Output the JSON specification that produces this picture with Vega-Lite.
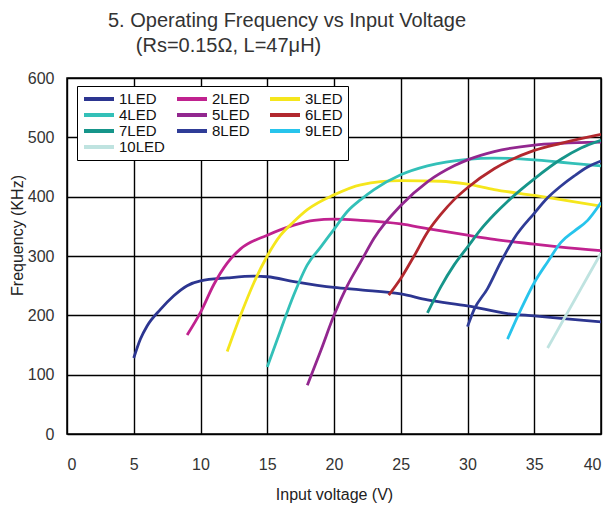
{
  "$schema": "https://vega.github.io/schema/vega-lite/v6.json",
  "width": 534,
  "height": 356,
  "autosize": {"type": "none"},
  "padding": {"left": 67, "top": 78, "right": 9, "bottom": 74},
  "background": "white",
  "title": {
    "text": ["5. Operating Frequency vs Input Voltage", "\u200b\u00a0\u00a0\u00a0\u00a0\u00a0(Rs=0.15Ω, L=47μH)"],
    "anchor": "start",
    "frame": "group",
    "dx": 41,
    "offset": 14,
    "fontSize": 20,
    "lineHeight": 25,
    "font": "Liberation Sans",
    "fontWeight": "normal",
    "color": "#333333"
  },
  "data": {
    "values": [
      {"s": "1LED", "v": 5, "f": 128}, {"s": "1LED", "v": 5.5, "f": 160}, {"s": "1LED", "v": 6, "f": 182}, {"s": "1LED", "v": 7, "f": 210}, {"s": "1LED", "v": 8, "f": 233}, {"s": "1LED", "v": 9, "f": 250}, {"s": "1LED", "v": 10, "f": 258}, {"s": "1LED", "v": 12, "f": 263}, {"s": "1LED", "v": 14, "f": 266}, {"s": "1LED", "v": 15, "f": 265}, {"s": "1LED", "v": 17, "f": 257}, {"s": "1LED", "v": 20, "f": 247}, {"s": "1LED", "v": 22, "f": 243}, {"s": "1LED", "v": 25, "f": 236}, {"s": "1LED", "v": 27, "f": 226}, {"s": "1LED", "v": 30, "f": 216}, {"s": "1LED", "v": 33, "f": 203}, {"s": "1LED", "v": 35, "f": 199}, {"s": "1LED", "v": 37, "f": 195}, {"s": "1LED", "v": 40, "f": 189},
      {"s": "2LED", "v": 9, "f": 167}, {"s": "2LED", "v": 10, "f": 205}, {"s": "2LED", "v": 11, "f": 252}, {"s": "2LED", "v": 12, "f": 288}, {"s": "2LED", "v": 13, "f": 312}, {"s": "2LED", "v": 15, "f": 335}, {"s": "2LED", "v": 17, "f": 352}, {"s": "2LED", "v": 18.5, "f": 360}, {"s": "2LED", "v": 20, "f": 362}, {"s": "2LED", "v": 22, "f": 360}, {"s": "2LED", "v": 25, "f": 354}, {"s": "2LED", "v": 27, "f": 346}, {"s": "2LED", "v": 30, "f": 335}, {"s": "2LED", "v": 32, "f": 328}, {"s": "2LED", "v": 35, "f": 320}, {"s": "2LED", "v": 37, "f": 315}, {"s": "2LED", "v": 40, "f": 309},
      {"s": "3LED", "v": 12, "f": 139}, {"s": "3LED", "v": 13, "f": 200}, {"s": "3LED", "v": 14, "f": 255}, {"s": "3LED", "v": 15, "f": 300}, {"s": "3LED", "v": 16, "f": 335}, {"s": "3LED", "v": 17, "f": 358}, {"s": "3LED", "v": 18, "f": 378}, {"s": "3LED", "v": 20, "f": 403}, {"s": "3LED", "v": 22, "f": 420}, {"s": "3LED", "v": 25, "f": 427}, {"s": "3LED", "v": 28, "f": 426}, {"s": "3LED", "v": 30, "f": 421}, {"s": "3LED", "v": 32, "f": 412}, {"s": "3LED", "v": 35, "f": 402}, {"s": "3LED", "v": 37, "f": 395}, {"s": "3LED", "v": 40, "f": 384},
      {"s": "4LED", "v": 15, "f": 113}, {"s": "4LED", "v": 16, "f": 175}, {"s": "4LED", "v": 17, "f": 235}, {"s": "4LED", "v": 18, "f": 285}, {"s": "4LED", "v": 19, "f": 315}, {"s": "4LED", "v": 20, "f": 345}, {"s": "4LED", "v": 21, "f": 375}, {"s": "4LED", "v": 22, "f": 395}, {"s": "4LED", "v": 23, "f": 412}, {"s": "4LED", "v": 25, "f": 437}, {"s": "4LED", "v": 27, "f": 452}, {"s": "4LED", "v": 30, "f": 463}, {"s": "4LED", "v": 32, "f": 465}, {"s": "4LED", "v": 35, "f": 462}, {"s": "4LED", "v": 37, "f": 458}, {"s": "4LED", "v": 40, "f": 452},
      {"s": "5LED", "v": 18, "f": 82}, {"s": "5LED", "v": 19, "f": 140}, {"s": "5LED", "v": 20, "f": 200}, {"s": "5LED", "v": 21, "f": 250}, {"s": "5LED", "v": 22, "f": 290}, {"s": "5LED", "v": 23, "f": 330}, {"s": "5LED", "v": 25, "f": 385}, {"s": "5LED", "v": 27, "f": 425}, {"s": "5LED", "v": 29, "f": 452}, {"s": "5LED", "v": 30, "f": 462}, {"s": "5LED", "v": 32, "f": 476}, {"s": "5LED", "v": 35, "f": 487}, {"s": "5LED", "v": 37, "f": 490}, {"s": "5LED", "v": 40, "f": 492},
      {"s": "6LED", "v": 24.1, "f": 234}, {"s": "6LED", "v": 25, "f": 262}, {"s": "6LED", "v": 26, "f": 300}, {"s": "6LED", "v": 27, "f": 340}, {"s": "6LED", "v": 28, "f": 370}, {"s": "6LED", "v": 29, "f": 395}, {"s": "6LED", "v": 30, "f": 415}, {"s": "6LED", "v": 32, "f": 447}, {"s": "6LED", "v": 35, "f": 478}, {"s": "6LED", "v": 37, "f": 490}, {"s": "6LED", "v": 40, "f": 505},
      {"s": "7LED", "v": 27, "f": 204}, {"s": "7LED", "v": 28, "f": 248}, {"s": "7LED", "v": 29, "f": 285}, {"s": "7LED", "v": 30, "f": 315}, {"s": "7LED", "v": 31, "f": 345}, {"s": "7LED", "v": 32, "f": 370}, {"s": "7LED", "v": 33, "f": 392}, {"s": "7LED", "v": 35, "f": 430}, {"s": "7LED", "v": 37, "f": 463}, {"s": "7LED", "v": 38.5, "f": 482}, {"s": "7LED", "v": 40, "f": 495},
      {"s": "8LED", "v": 30, "f": 181}, {"s": "8LED", "v": 30.5, "f": 210}, {"s": "8LED", "v": 31.5, "f": 245}, {"s": "8LED", "v": 32.5, "f": 290}, {"s": "8LED", "v": 33.5, "f": 330}, {"s": "8LED", "v": 35, "f": 372}, {"s": "8LED", "v": 36, "f": 398}, {"s": "8LED", "v": 37, "f": 418}, {"s": "8LED", "v": 38, "f": 435}, {"s": "8LED", "v": 39, "f": 450}, {"s": "8LED", "v": 40, "f": 460},
      {"s": "9LED", "v": 33, "f": 160}, {"s": "9LED", "v": 34, "f": 210}, {"s": "9LED", "v": 35, "f": 255}, {"s": "9LED", "v": 36, "f": 290}, {"s": "9LED", "v": 37, "f": 323}, {"s": "9LED", "v": 38, "f": 342}, {"s": "9LED", "v": 39, "f": 360}, {"s": "9LED", "v": 40, "f": 390},
      {"s": "10LED", "v": 36, "f": 145}, {"s": "10LED", "v": 37, "f": 185}, {"s": "10LED", "v": 38, "f": 225}, {"s": "10LED", "v": 39, "f": 265}, {"s": "10LED", "v": 40, "f": 305}
    ]
  },
  "mark": {"type": "line", "interpolate": "monotone", "strokeWidth": 2.8, "clip": true},
  "encoding": {
    "x": {
      "field": "v", "type": "quantitative",
      "scale": {"domain": [0, 40], "nice": false},
      "axis": {"values": [0, 5, 10, 15, 20, 25, 30, 35, 40], "title": "Input voltage (V)", "labelPadding": 22, "titlePadding": 14}
    },
    "y": {
      "field": "f", "type": "quantitative",
      "scale": {"domain": [0, 600], "nice": false},
      "axis": {"values": [0, 100, 200, 300, 400, 500, 600], "title": "Frequency (KHz)", "labelPadding": 13, "titleX": -50, "titleY": 157, "titleAlign": "center", "titleBaseline": "middle"}
    },
    "color": {
      "field": "s", "type": "nominal",
      "scale": {
        "domain": ["1LED", "2LED", "3LED", "4LED", "5LED", "6LED", "7LED", "8LED", "9LED", "10LED"],
        "range": ["#2c3590", "#c0228f", "#f5e61c", "#33c0b8", "#92278f", "#b2282e", "#16958a", "#2f3c97", "#27c4ec", "#bfe3e0"]
      },
      "legend": {
        "title": null,
        "orient": "none",
        "direction": "horizontal",
        "legendX": 10,
        "legendY": 8,
        "columns": 3,
        "gridAlign": "all",
        "columnPadding": 4,
        "rowPadding": 0,
        "symbolType": "M-1,0H4",
        "symbolSize": 144,
        "symbolStrokeWidth": 4,
        "labelOffset": 21,
        "labelFontSize": 15,
        "labelFont": "Liberation Sans",
        "labelColor": "#111111",
        "strokeColor": "black",
        "fillColor": "white",
        "padding": 5
      }
    }
  },
  "config": {
    "view": {"stroke": "black", "strokeWidth": 1.5},
    "axis": {
      "domain": false,
      "ticks": false,
      "grid": true,
      "gridColor": "black",
      "gridOpacity": 1,
      "gridWidth": 1.4,
      "labelFont": "Liberation Sans",
      "labelFontSize": 16,
      "labelColor": "#333333",
      "titleFont": "Liberation Sans",
      "titleFontSize": 16,
      "titleFontWeight": "normal",
      "titleColor": "#222222"
    }
  }
}
